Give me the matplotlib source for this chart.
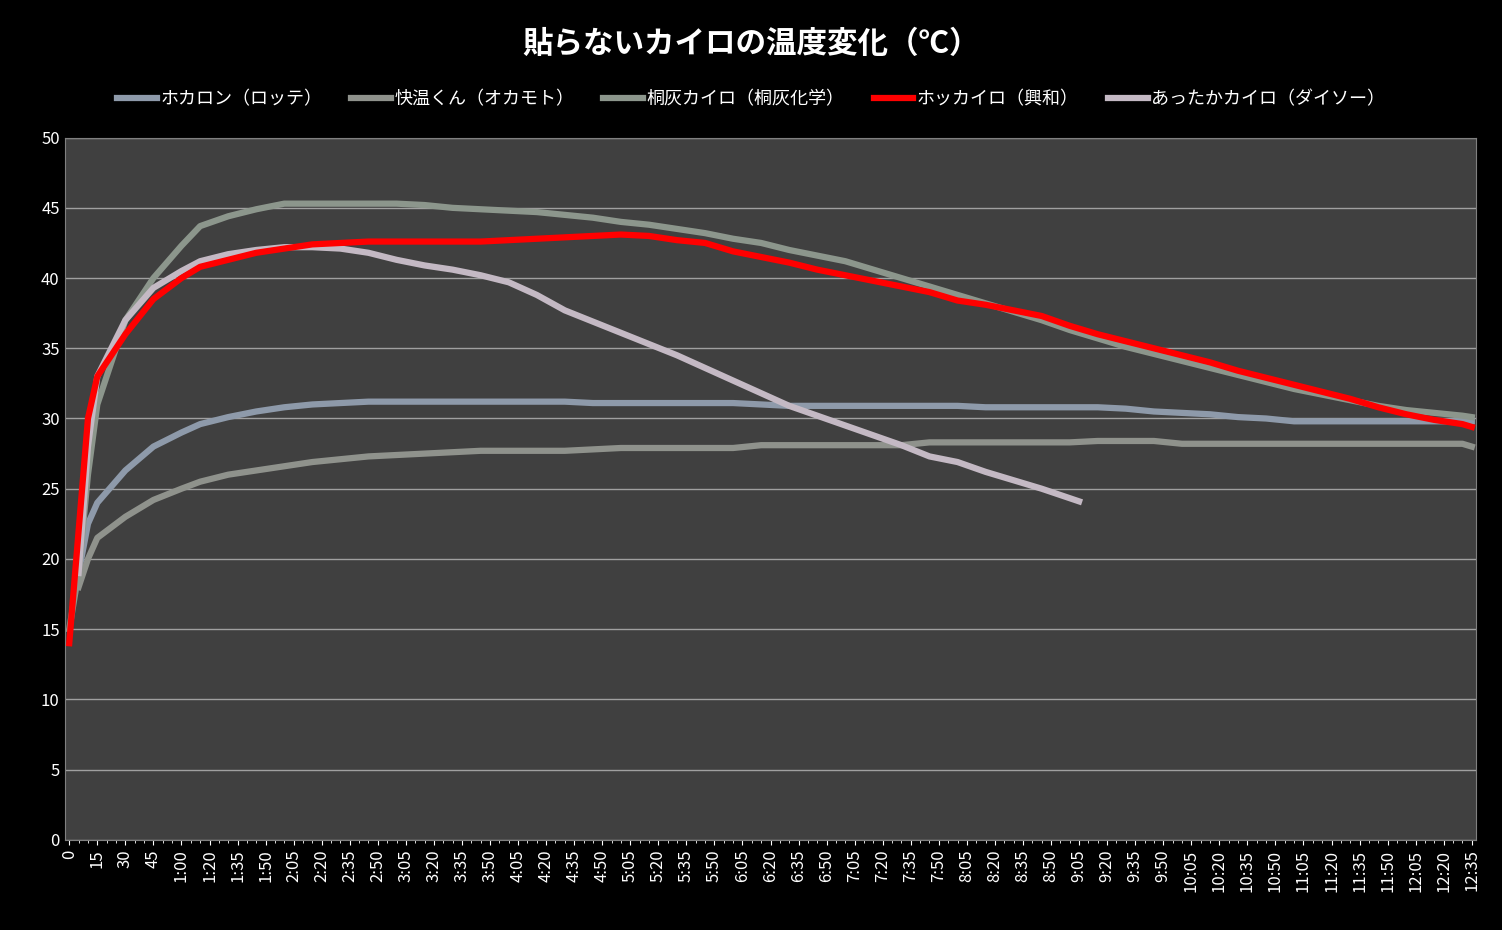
import matplotlib.pyplot as plt

plt.rcParams["font.family"] = ["Noto Sans CJK JP", "DejaVu Sans"]

# sample times in minutes
times = [0, 5, 10] + list(range(15, 751, 15)) + [755]
t5 = times[1:]

series_names = ["ホカロン（ロッテ）", "快温くん（オカモト）", "桐灰カイロ（桐灰化学）",
                "ホッカイロ（興和）", "あったかカイロ（ダイソー）"]

hokaron = [19, 22.5, 24, 26.3, 28, 29, 29.6, 30.1, 30.5, 30.8, 31.0, 31.1,
           31.2, 31.2, 31.2, 31.2, 31.2, 31.2, 31.2, 31.2, 31.1, 31.1, 31.1, 31.1,
           31.1, 31.1, 31.0, 30.9, 30.9, 30.9, 30.9, 30.9, 30.9, 30.9, 30.8, 30.8,
           30.8, 30.8, 30.8, 30.7, 30.5, 30.4, 30.3, 30.1, 30.0, 29.8, 29.8, 29.8,
           29.8, 29.8, 29.8, 29.8, 29.8]
kaion = [18, 20, 21.5, 23, 24.2, 25, 25.5, 26, 26.3, 26.6, 26.9, 27.1,
         27.3, 27.4, 27.5, 27.6, 27.7, 27.7, 27.7, 27.7, 27.8, 27.9, 27.9, 27.9,
         27.9, 27.9, 28.1, 28.1, 28.1, 28.1, 28.1, 28.1, 28.3, 28.3, 28.3, 28.3,
         28.3, 28.3, 28.4, 28.4, 28.4, 28.2, 28.2, 28.2, 28.2, 28.2, 28.2, 28.2,
         28.2, 28.2, 28.2, 28.2, 28.0]
kiribai = [15, 19, 26, 31, 37, 40, 42.3, 43.7, 44.4, 44.9, 45.3, 45.3, 45.3,
           45.3, 45.3, 45.2, 45.0, 44.9, 44.8, 44.7, 44.5, 44.3, 44.0, 43.8, 43.5,
           43.2, 42.8, 42.5, 42.0, 41.6, 41.2, 40.6, 40.0, 39.4, 38.8, 38.2, 37.6,
           37.0, 36.3, 35.7, 35.1, 34.6, 34.1, 33.6, 33.1, 32.6, 32.1, 31.7, 31.3,
           30.9, 30.6, 30.4, 30.2, 30.1]
hokkairo = [14, 22, 30, 33, 36, 38.5, 40, 40.8, 41.3, 41.8, 42.1, 42.4, 42.5,
            42.6, 42.6, 42.6, 42.6, 42.6, 42.7, 42.8, 42.9, 43.0, 43.1, 43.0, 42.7,
            42.5, 41.9, 41.5, 41.1, 40.6, 40.2, 39.8, 39.4, 39.0, 38.4, 38.1, 37.7,
            37.3, 36.6, 36.0, 35.5, 35.0, 34.5, 34.0, 33.4, 32.9, 32.4, 31.9, 31.4,
            30.8, 30.3, 29.9, 29.6, 29.4]
attaka_t = [5, 10] + list(range(15, 526, 15)) + [545]
attaka = [19, 28, 33, 37, 39.3, 40.5, 41.2, 41.7, 42.0, 42.2, 42.2, 42.1, 41.8,
          41.3, 40.9, 40.6, 40.2, 39.7, 38.8, 37.7, 36.9, 36.1, 35.3, 34.5, 33.6,
          32.7, 31.8, 30.9, 30.2, 29.5, 28.8, 28.1, 27.3, 26.9, 26.2, 25.6, 25.0,
          24.1]

colors = ["#8E9AAA", "#8F928C", "#8C968C", "#FF0000", "#C4B9C4"]


# category axis: 1:05 is missing in the original measurement list
def to_idx(minutes):
    return [m / 5 if m <= 60 else (m - 5) / 5 for m in minutes]


fig = plt.figure(figsize=(15.02, 9.3), dpi=100, facecolor="black")
ax = fig.add_axes([0.043, 0.097, 0.940, 0.755])
ax.set_facecolor("#404040")

lw = 4.5
ax.plot(to_idx(t5), hokaron, color=colors[0], lw=lw, label=series_names[0])
ax.plot(to_idx(t5), kaion, color=colors[1], lw=lw, label=series_names[1])
ax.plot(to_idx(times), kiribai, color=colors[2], lw=lw, label=series_names[2])
ax.plot(to_idx(times), hokkairo, color=colors[3], lw=lw, label=series_names[3], zorder=4)
ax.plot(to_idx(attaka_t), attaka, color=colors[4], lw=lw, label=series_names[4])

ax.set_ylim(0, 50)
ax.set_yticks(range(0, 51, 5))
ax.set_xlim(-0.5, 150.5)
tick_min = [0, 15, 30, 45, 60] + list(range(80, 756, 15))
xl = ["0" if m == 0 else (str(m) if m < 60 else f"{m // 60}:{m % 60:02d}") for m in tick_min]
ax.set_xticks(to_idx(tick_min))
ax.set_xticklabels(xl, rotation=90)
ax.set_xticks(range(0, 151), minor=True)
ax.tick_params(colors="white", labelsize=12, which="both")
ax.tick_params(axis="y", length=0)
ax.grid(axis="y", color="#A0A0A0", lw=1)
ax.set_axisbelow(True)
for s in ax.spines.values():
    s.set_color("#808080")

fig.suptitle("貼らないカイロの温度変化（℃）", color="white", fontsize=22,
             fontweight="bold", y=0.97)
leg = fig.legend(loc="upper center", bbox_to_anchor=(0.5, 0.92), ncol=5,
                 frameon=False, fontsize=13, handlelength=2.2, handletextpad=0.2,
                 columnspacing=1.6)
for txt in leg.get_texts():
    txt.set_color("white")

fig.savefig("out.png", facecolor="black")
